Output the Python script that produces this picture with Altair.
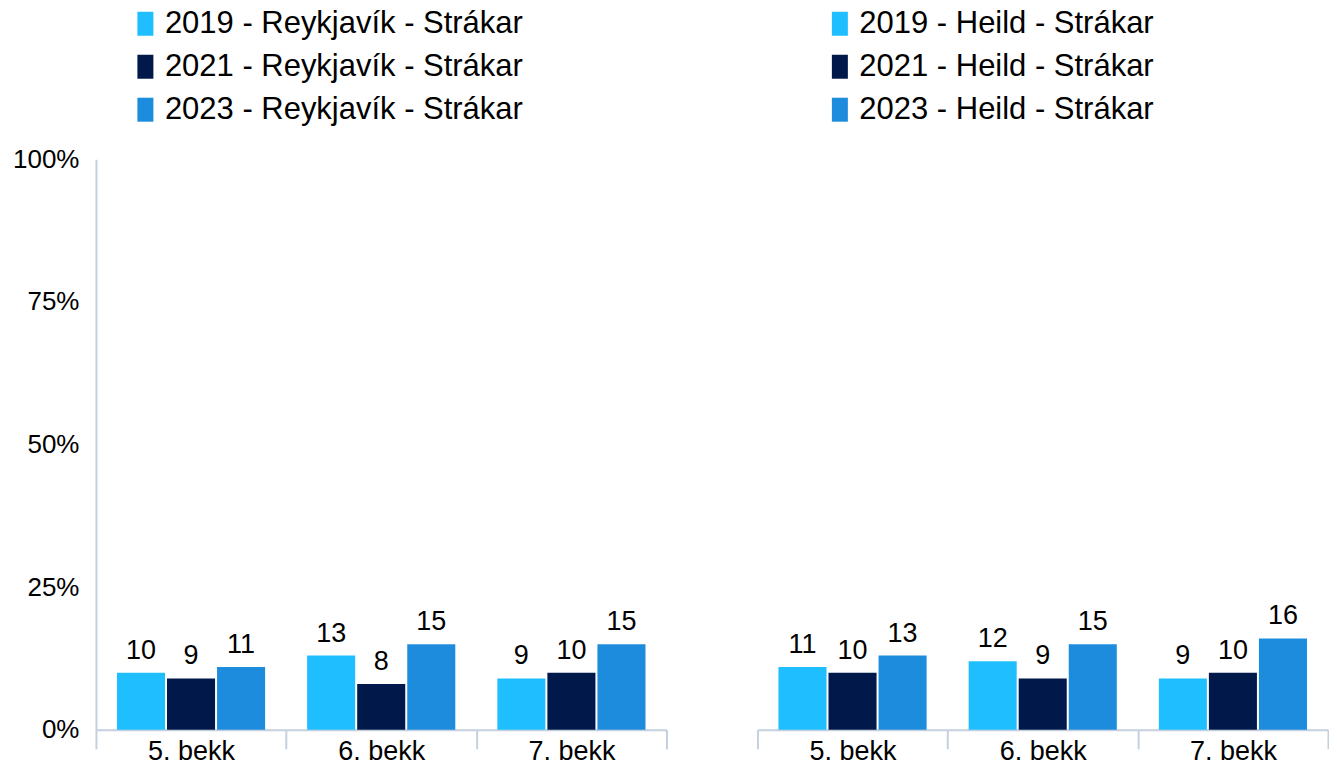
import altair as alt
import pandas as pd

grades = ["5. bekk", "6. bekk", "7. bekk"]
years = ["2019", "2021", "2023"]
colors = ["#1FBFFF", "#00194A", "#1E8CDC"]

rvk_2019 = [10, 13, 9]
rvk_2021 = [9, 8, 10]
rvk_2023 = [11, 15, 15]

heild_2019 = [11, 12, 9]
heild_2021 = [10, 9, 10]
heild_2023 = [13, 15, 16]

FONT = "Liberation Sans"
AXIS_COLOR = "#C5D0DF"


def make_df(place, vals):
    rows = []
    for yi, y in enumerate(years):
        for gi, g in enumerate(grades):
            rows.append({"grade": g, "year": y,
                         "series": f"{y} - {place} - Strákar",
                         "value": vals[yi][gi]})
    return pd.DataFrame(rows)


def panel(place, vals, show_y, legend_x):
    df = make_df(place, vals)
    domain = [f"{y} - {place} - Strákar" for y in years]
    x = alt.X("grade:N", sort=grades, title=None,
              scale=alt.Scale(paddingInner=0, paddingOuter=0),
              axis=alt.Axis(labelAngle=0, labelFontSize=27, labelFont=FONT,
                            labelColor="#000000", domainColor=AXIS_COLOR,
                            domainWidth=2, tickColor=AXIS_COLOR, tickWidth=2,
                            tickSize=19, tickBand="extent", labelPadding=-10,
                            labelBaseline="top"))
    xo = alt.XOffset("year:N", sort=years,
                     scale=alt.Scale(paddingInner=0.04, paddingOuter=0.42))
    if show_y:
        yaxis = alt.Axis(values=[0, 25, 50, 75, 100],
                         labelExpr="datum.value + '%'", labelFontSize=26,
                         labelFont=FONT, labelColor="#000000", ticks=False,
                         grid=False, domainColor=AXIS_COLOR, domainWidth=2,
                         labelPadding=17)
    else:
        yaxis = None
    y = alt.Y("value:Q", title=None,
              scale=alt.Scale(domain=[0, 100], nice=False), axis=yaxis)
    color = alt.Color("series:N", sort=domain,
                      scale=alt.Scale(domain=domain, range=colors),
                      legend=alt.Legend(orient="none", legendX=legend_x,
                                        legendY=-151, direction="vertical",
                                        title=None, labelFontSize=31,
                                        labelFont=FONT, labelColor="#000000",
                                        labelLimit=0,
                                        symbolType="M-0.667,-1H0.667V1H-0.667Z",
                                        symbolSize=576, symbolStrokeWidth=0,
                                        symbolOpacity=1, rowPadding=11,
                                        labelOffset=4, padding=0))
    base = alt.Chart(df).encode(x=x, xOffset=xo)
    bars = base.mark_bar().encode(y=y, color=color)
    text = base.mark_text(baseline="alphabetic", dy=-14, fontSize=27,
                          font=FONT, color="#000000").encode(
        y=alt.Y("value:Q", scale=alt.Scale(domain=[0, 100], nice=False)),
        text=alt.Text("value:Q"))
    return alt.layer(bars, text).properties(width=571, height=571)


left = panel("Reykjavík", [rvk_2019, rvk_2021, rvk_2023], True, 34)
right = panel("Heild", [heild_2019, heild_2021, heild_2023], False, 67)

chart = alt.hconcat(left, right, spacing=89).resolve_scale(
    color="independent"
).configure(
    padding={"left": 4, "top": 0, "right": 0, "bottom": 0},
    background="white",
).configure_view(stroke=None)

chart.save("out.html", embed_options={"renderer": "svg", "actions": False})
